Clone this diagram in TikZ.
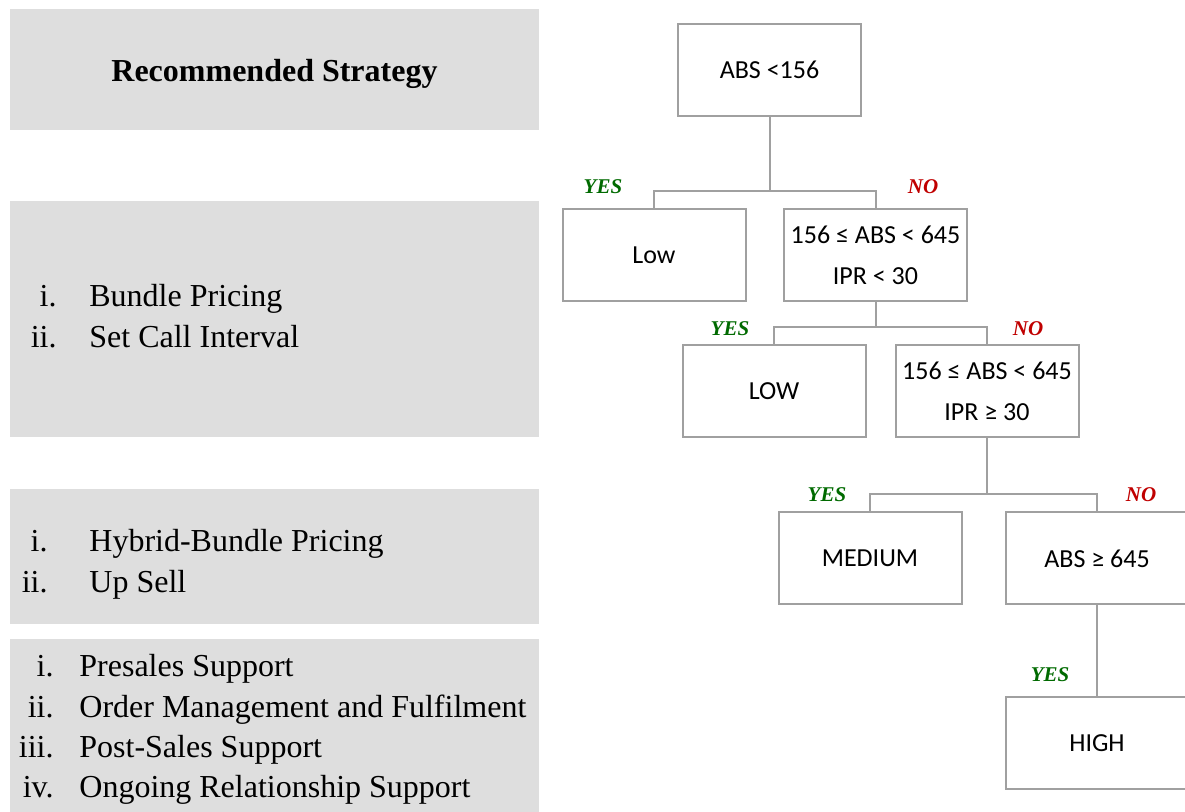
\documentclass[tikz,border=0pt]{standalone}
\usepackage{fontspec}
\setmainfont{Liberation Serif}
\newfontfamily\treefont{Carlito}

\definecolor{panelgray}{HTML}{DEDEDE}
\definecolor{boxgray}{HTML}{A0A0A0}
\definecolor{yesgreen}{HTML}{006A00}
\definecolor{nored}{HTML}{C00000}

\begin{document}
\begin{tikzpicture}[x=0.5pt,y=-0.5pt]

% ----------------------------
% Styles
% ----------------------------
\tikzset{
	panel/.style={fill=panelgray,draw=none,inner sep=0pt},
	leaf/.style={draw=boxgray,line width=1pt,fill=white,minimum width=91.5pt,minimum height=46pt,
		inner sep=0pt,align=center,font=\treefont\fontsize{13}{20.5}\selectfont},
	link/.style={draw=boxgray,line width=1pt},
	yes/.style={inner sep=0pt,text=yesgreen,font=\fontsize{10.5}{12}\selectfont\bfseries\itshape},
	no/.style={inner sep=0pt,text=nored,font=\fontsize{10.5}{12}\selectfont\bfseries\itshape},
	num/.style={anchor=base east,inner sep=0pt,font=\fontsize{16}{19}\selectfont},
	item/.style={anchor=base west,inner sep=0pt,font=\fontsize{16}{19}\selectfont}
}

\useasboundingbox (0,0) rectangle (1185,812);

% ============================================================
% LEFT: strategy panels
% ============================================================
\node[panel,minimum width=264.5pt,minimum height=60.5pt] (head) at (274.5,69.5) {};
\node[panel,minimum width=264.5pt,minimum height=118pt] (lowp) at (274.5,319) {};
\node[panel,minimum width=264.5pt,minimum height=67.5pt] (medp) at (274.5,556.5) {};
\node[panel,minimum width=264.5pt,minimum height=86.5pt] (highp) at (274.5,725.5) {};

\node[anchor=base,inner sep=0pt,font=\fontsize{16}{19}\selectfont\bfseries] (title) at (274.5,82) {Recommended Strategy};

% strategy for low
\foreach \n/\t [count=\k] in {i./Bundle Pricing, ii./Set Call Interval}{
	\node[num] (lnum\k) at (57,{307+41*(\k-1)}) {\n};
	\node[item] (ltext\k) at (89,{307+41*(\k-1)}) {\t};
}

% strategy for medium
\foreach \n/\t [count=\k] in {i./Hybrid-Bundle Pricing, ii./Up Sell}{
	\node[num] (mnum\k) at (48,{552+40.5*(\k-1)}) {\n};
	\node[item] (mtext\k) at (89,{552+40.5*(\k-1)}) {\t};
}

% strategy for high
\foreach \n/\t [count=\k] in {i./Presales Support, ii./Order Management and Fulfilment,
	iii./Post-Sales Support, iv./Ongoing Relationship Support}{
	\node[num] (hnum\k) at (54,{677+40.3*(\k-1)}) {\n};
	\node[item] (htext\k) at (79,{677+40.3*(\k-1)}) {\t};
}

% ============================================================
% RIGHT: decision tree
% ============================================================
\node[leaf] (root) at (769.5,70) {ABS <156};
\node[leaf] (low1) at (654,255) {Low};
\node[leaf] (c2) at (875.5,255) {156 ≤ ABS < 645\\IPR < 30};
\node[leaf] (low2) at (774,391.5) {LOW};
\node[leaf] (c3) at (987,391.5) {156 ≤ ABS < 645\\IPR ≥ 30};
\node[leaf] (med) at (870,558.5) {MEDIUM};
\node[leaf] (c4) at (1097,558.5) {ABS ≥ 645};
\node[leaf] (high) at (1097,743.5) {HIGH};

% Branches
\draw[link] (root.south) -- ++(0,74) coordinate (j1);
\draw[link] (j1) -| (low1.north);
\draw[link] (j1) -| (c2.north);

\draw[link] (c2.south) -- ++(0,25) coordinate (j2);
\draw[link] (j2) -| (low2.north);
\draw[link] (j2) -| (c3.north);

\draw[link] (c3.south) -- ++(0,56) coordinate (j3);
\draw[link] (j3) -| (med.north);
\draw[link] (j3) -| (c4.north);

\draw[link] (c4.south) -- (high.north);

% YES / NO labels
\node[yes] (y1) at (603,187) {YES};
\node[no] (n1) at (923,187) {NO};
\node[yes] (y2) at (730,329) {YES};
\node[no] (n2) at (1028,329) {NO};
\node[yes] (y3) at (827,495) {YES};
\node[no] (n3) at (1141,495) {NO};
\node[yes] (y4) at (1050,675) {YES};

\end{tikzpicture}
\end{document}
